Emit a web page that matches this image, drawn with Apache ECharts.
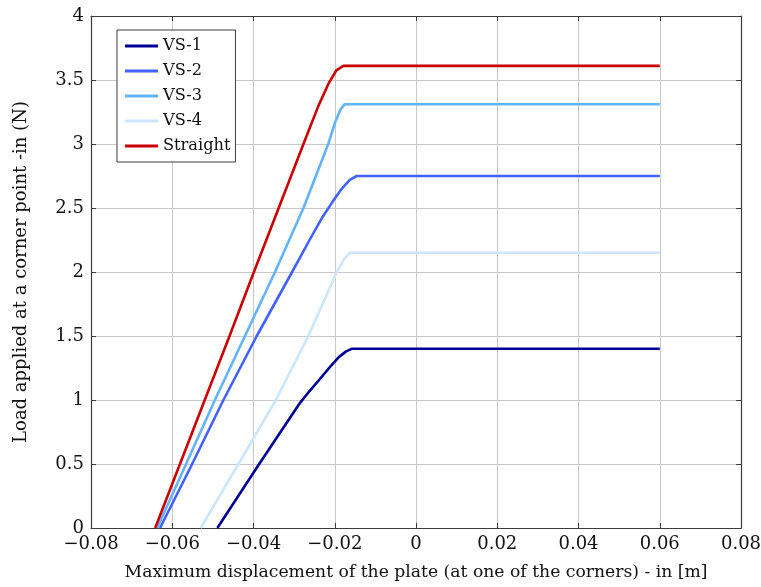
<!DOCTYPE html>
<html>
<head>
<meta charset="utf-8">
<script src="https://cdn.jsdelivr.net/npm/echarts@6/dist/echarts.min.js"></script>
<style>
  html, body { margin: 0; padding: 0; background: #fff; }
  #chart { width: 761px; height: 587px; }
</style>
</head>
<body>
<div id="chart"></div>
<script>
// Load–displacement curves for the corner-loaded plates
const seriesNames = ['VS-1', 'VS-2', 'VS-3', 'VS-4', 'Straight'];

const vs1 = [[-0.0489, 0], [-0.0386, 0.5], [-0.0285, 0.98], [-0.0262, 1.07], [-0.0235, 1.17], [-0.0210, 1.265], [-0.0190, 1.335], [-0.0172, 1.38], [-0.0158, 1.40], [0.06, 1.40]];
const vs2 = [[-0.0630, 0], [-0.0551, 0.5], [-0.0474, 1.0], [-0.0392, 1.5], [-0.0305, 2.0], [-0.0262, 2.25], [-0.0230, 2.43], [-0.0205, 2.55], [-0.0183, 2.65], [-0.0163, 2.72], [-0.0146, 2.75], [0.06, 2.75]];
const vs3 = [[-0.0637, 0], [-0.0566, 0.5], [-0.0495, 1.0], [-0.0421, 1.5], [-0.0347, 2.0], [-0.0277, 2.5], [-0.0216, 3.0], [-0.0199, 3.17], [-0.0186, 3.27], [-0.0176, 3.31], [0.06, 3.31]];
const vs4 = [[-0.0530, 0], [-0.0437, 0.5], [-0.0345, 1.0], [-0.0265, 1.5], [-0.0195, 2.0], [-0.0177, 2.10], [-0.0162, 2.15], [0.06, 2.15]];
const straight = [[-0.0642, 0], [-0.0581, 0.5], [-0.0520, 1.0], [-0.0459, 1.5], [-0.0399, 2.0], [-0.0338, 2.5], [-0.0277, 3.0], [-0.0240, 3.3], [-0.0214, 3.48], [-0.0196, 3.575], [-0.0179, 3.61], [0.06, 3.61]];

const seriesData = [vs1, vs2, vs3, vs4, straight];
const seriesColors = ['#000096', '#4262ff', '#62b4ff', '#cde6ff', '#cc0000'];

const xAxisTitle = 'Maximum displacement of the plate (at one of the corners) - in [m]';
const yAxisTitle = 'Load applied at a corner point -in (N)';

const FONT = "'DejaVu Serif', 'Liberation Serif', serif";
const FS = 18;

function fmt(v) {
  const r = Math.round(v * 1000) / 1000;
  if (r === 0) return '0';
  const s = String(Math.abs(r));
  return (r < 0 ? '\u2212' : '') + s;
}

const frameColor = '#3c3c3c';
const gridColor = '#c8c8c8';
const textColor = '#111111';

const baseX = { type: 'value', min: -0.08, max: 0.08, interval: 0.02 };
const baseY = { type: 'value', min: 0, max: 4, interval: 0.5 };

const frameLine = { show: true, onZero: false, lineStyle: { color: frameColor, width: 1.2 } };
const innerTicks = { show: true, inside: true, length: 5, lineStyle: { color: frameColor } };

const chart = echarts.init(document.getElementById('chart'), null, { renderer: 'canvas' });

chart.setOption({
  animation: false,
  backgroundColor: '#ffffff',
  grid: { left: 91, right: 20, top: 16, bottom: 59, containLabel: false, outerBoundsMode: 'none' },
  legend: {
    data: seriesNames.map(n => ({ name: n, icon: 'rect' })),
    orient: 'vertical',
    left: 117,
    top: 30,
    padding: [7, 5, 7, 8],
    itemWidth: 33,
    itemHeight: 3,
    itemGap: 7,
    backgroundColor: '#ffffff',
    borderColor: frameColor,
    borderWidth: 1,
    borderRadius: 0,
    textStyle: { fontFamily: FONT, fontSize: 16.2, lineHeight: 18, color: textColor }
  },
  xAxis: [
    Object.assign({}, baseX, {
      position: 'bottom',
      name: xAxisTitle,
      nameLocation: 'middle',
      nameGap: 36,
      nameTextStyle: { fontFamily: FONT, fontSize: 17.2, color: textColor },
      axisLine: frameLine,
      axisTick: innerTicks,
      axisLabel: { fontFamily: FONT, fontSize: FS, color: textColor, margin: 7, formatter: fmt },
      splitLine: { show: true, lineStyle: { color: gridColor, width: 1 } }
    }),
    Object.assign({}, baseX, {
      position: 'top',
      axisLine: frameLine,
      axisTick: innerTicks,
      axisLabel: { show: false },
      splitLine: { show: false }
    })
  ],
  yAxis: [
    Object.assign({}, baseY, {
      position: 'left',
      name: yAxisTitle,
      nameLocation: 'middle',
      nameGap: 61,
      nameRotate: 90,
      nameTextStyle: { fontFamily: FONT, fontSize: FS, color: textColor },
      axisLine: frameLine,
      axisTick: innerTicks,
      axisLabel: { fontFamily: FONT, fontSize: FS, color: textColor, margin: 7, formatter: fmt },
      splitLine: { show: true, lineStyle: { color: gridColor, width: 1 } }
    }),
    Object.assign({}, baseY, {
      position: 'right',
      axisLine: frameLine,
      axisTick: innerTicks,
      axisLabel: { show: false },
      splitLine: { show: false }
    })
  ],
  series: seriesNames.map((name, i) => ({
    name: name,
    type: 'line',
    xAxisIndex: 0,
    yAxisIndex: 0,
    data: seriesData[i],
    symbol: 'none',
    smooth: false,
    color: seriesColors[i],
    itemStyle: { color: seriesColors[i] },
    lineStyle: { color: seriesColors[i], width: 2.6, join: 'round' },
    z: 3
  }))
});
</script>
</body>
</html>
